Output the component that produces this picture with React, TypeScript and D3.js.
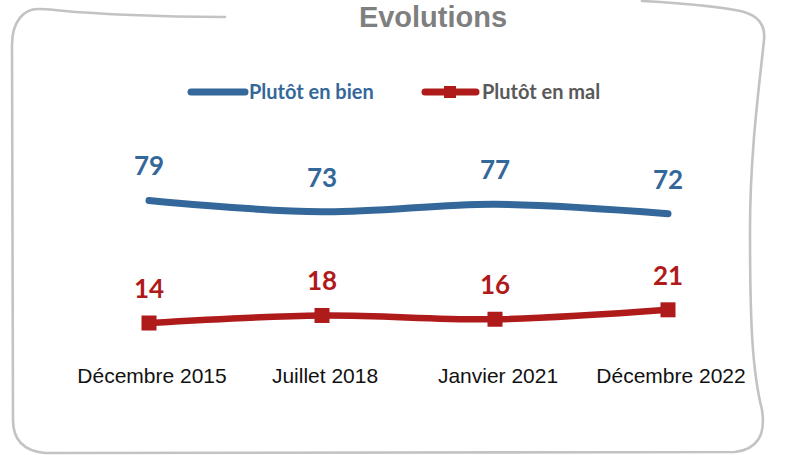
import React from "react";
import * as d3 from "d3";

const categories = ["Décembre 2015", "Juillet 2018", "Janvier 2021", "Décembre 2022"];
const bienValues = [79, 73, 77, 72];
const malValues = [14, 18, 16, 21];
const seriesNames = ["Plutôt en bien", "Plutôt en mal"];
const title = "Evolutions";

const W = 795;
const H = 455;
const BLUE = "#34679A";
const RED = "#AF1A1B";

export default function App() {
  const x = d3.scalePoint<string>().domain(categories).range([149, 668]);
  const y = d3.scaleLinear().domain([0, 100]).range([349.4, 160.9]);

  const line = d3
    .line<number>()
    .x((_, i) => x(categories[i]) as number)
    .y((d) => y(d))
    .curve(d3.curveCatmullRom.alpha(0.5));

  const border =
    "M 642 1 Q 700 4 735 10 C 755 13 766 22 764 40 C 760 80 750 150 750 230 " +
    "C 750 320 752 370 762 410 Q 768 448 735 452 L 45 453 Q 13 450 13 420 " +
    "L 12 45 C 12 20 25 9 38 9 C 60 9 80 16 225 17";

  return (
    <svg
      width={W}
      height={H}
      style={{ position: "absolute", left: 0, top: 0, background: "#fff" }}
    >
      <path d={border} fill="none" stroke="#c3c3c3" strokeWidth={2.6} strokeLinecap="round" />
      <text
        x={433}
        y={27}
        textAnchor="middle"
        fontFamily="'Liberation Sans', Arial, sans-serif"
        fontWeight="bold"
        fontSize={29}
        fill="#7f7f7f"
      >
        {title}
      </text>

      {/* Legend */}
      <g fontFamily="Lato, sans-serif" fontWeight="bold" fontSize={20}>
        <line x1={191} x2={245} y1={92} y2={92} stroke={BLUE} strokeWidth={7} strokeLinecap="round" />
        <text x={249} y={98.5} fill={BLUE}>{seriesNames[0]}</text>
        <line x1={425} x2={476} y1={92} y2={92} stroke={RED} strokeWidth={7} strokeLinecap="round" />
        <rect x={444} y={86} width={12} height={12} fill={RED} />
        <text x={482} y={98.5} fill="#595959">{seriesNames[1]}</text>
      </g>

      {/* Lines */}
      <path d={line(bienValues) || ""} fill="none" stroke={BLUE} strokeWidth={7} strokeLinecap="round" />
      <path d={line(malValues) || ""} fill="none" stroke={RED} strokeWidth={6.5} strokeLinecap="round" />
      {malValues.map((v, i) => (
        <rect
          key={"m" + i}
          x={(x(categories[i]) as number) - 7.5}
          y={y(v) - 7.5}
          width={15}
          height={15}
          fill={RED}
        />
      ))}

      {/* Data labels */}
      <g fontFamily="Lato, sans-serif" fontWeight="bold" fontSize={26} textAnchor="middle">
        {bienValues.map((v, i) => (
          <text key={"b" + i} x={x(categories[i]) as number} y={y(v) - 25} fill={BLUE}>
            {v}
          </text>
        ))}
        {malValues.map((v, i) => (
          <text key={"r" + i} x={x(categories[i]) as number} y={y(v) - 25} fill={RED}>
            {v}
          </text>
        ))}
      </g>

      {/* Category labels */}
      <g
        fontFamily="'Liberation Sans', Arial, sans-serif"
        fontWeight={400}
        fontSize={21}
        fill="#111"
        textAnchor="middle"
      >
        {categories.map((c) => (
          <text key={c} x={(x(c) as number) + 3} y={383}>
            {c}
          </text>
        ))}
      </g>
    </svg>
  );
}
